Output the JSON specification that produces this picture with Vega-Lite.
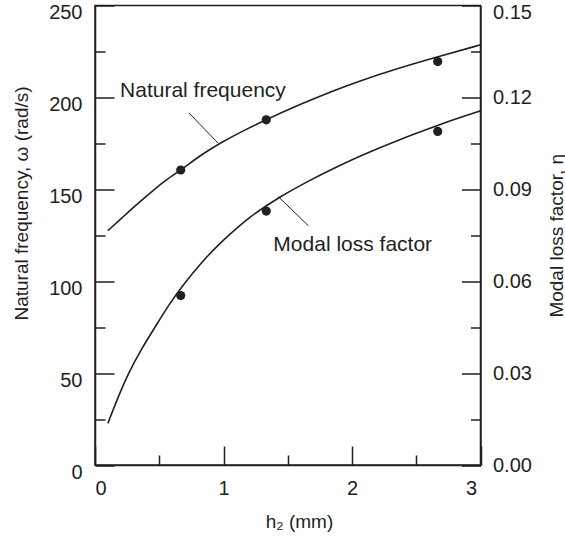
{
  "$schema": "https://vega.github.io/schema/vega-lite/v6.json",
  "width": 385.5,
  "height": 459.5,
  "autosize": "none",
  "padding": {"left": 95, "top": 5.5, "right": 84.5, "bottom": 73},
  "background": "white",
  "config": {
    "font": "Liberation Sans",
    "view": {"stroke": "#231f20", "strokeWidth": 1.5},
    "axis": {
      "grid": false,
      "domainColor": "#231f20",
      "domainWidth": 1.5,
      "tickColor": "#231f20",
      "tickWidth": 1.5,
      "labelColor": "#231f20",
      "labelFont": "Liberation Sans",
      "labelFontSize": 20,
      "titleFont": "Liberation Sans",
      "titleFontSize": 19,
      "titleFontWeight": "normal",
      "titleColor": "#231f20"
    }
  },
  "datasets": {
    "nf_curve": [
      {"h": 0.1, "nf": 127.5}, {"h": 0.2, "nf": 133.8}, {"h": 0.32, "nf": 141.5},
      {"h": 0.45, "nf": 149.2}, {"h": 0.55, "nf": 155.1}, {"h": 0.67, "nf": 160.5},
      {"h": 0.82, "nf": 168.5}, {"h": 0.97, "nf": 175.0}, {"h": 1.15, "nf": 181.8},
      {"h": 1.33, "nf": 187.8}, {"h": 1.5, "nf": 193.2}, {"h": 1.66, "nf": 198.0},
      {"h": 1.85, "nf": 203.5}, {"h": 2.06, "nf": 209.0}, {"h": 2.33, "nf": 215.2},
      {"h": 2.66, "nf": 222.0}, {"h": 3.0, "nf": 228.6}
    ],
    "mlf_curve": [
      {"h": 0.1, "mlf": 0.0136}, {"h": 0.18, "mlf": 0.0222}, {"h": 0.26, "mlf": 0.030},
      {"h": 0.36, "mlf": 0.0378}, {"h": 0.47, "mlf": 0.0452}, {"h": 0.57, "mlf": 0.052},
      {"h": 0.67, "mlf": 0.058}, {"h": 0.84, "mlf": 0.0668}, {"h": 1.0, "mlf": 0.0735},
      {"h": 1.2, "mlf": 0.081}, {"h": 1.435, "mlf": 0.0875}, {"h": 1.65, "mlf": 0.0925},
      {"h": 1.87, "mlf": 0.0971}, {"h": 2.06, "mlf": 0.1008}, {"h": 2.26, "mlf": 0.1043},
      {"h": 2.46, "mlf": 0.1077}, {"h": 2.66, "mlf": 0.1108}, {"h": 2.83, "mlf": 0.1133},
      {"h": 3.0, "mlf": 0.1156}
    ],
    "nf_pts": [
      {"h": 0.667, "nf": 160.5}, {"h": 1.333, "nf": 187.8}, {"h": 2.667, "nf": 219.5}
    ],
    "mlf_pts": [
      {"h": 0.667, "mlf": 0.0553}, {"h": 1.333, "mlf": 0.0829}, {"h": 2.667, "mlf": 0.1089}
    ],
    "labels": [
      {"label": "Natural frequency", "h": 0.195, "v": 200.1},
      {"label": "Modal loss factor", "h": 1.388, "v": 116.6}
    ],
    "leaders": [
      {"h": 0.7315, "v": 191.5, "h2": 0.957, "v2": 175.2},
      {"h": 1.427, "v": 146.0, "h2": 1.66, "v2": 130.2}
    ]
  },
  "layer": [
    {
      "layer": [
        {
          "data": {"name": "nf_curve"},
          "mark": {"type": "line", "color": "#231f20", "strokeWidth": 1.6, "interpolate": "basis"},
          "encoding": {
            "x": {
              "field": "h", "type": "quantitative",
              "scale": {"domain": [0, 3], "nice": false, "zero": false},
              "axis": {
                "orient": "bottom", "values": [0, 1, 2, 3], "tickSize": -19,
                "labelPadding": 32, "labelBaseline": "top",
                "labelOffset": {"condition": {"test": "datum.value == 3", "value": -4}, "value": 0},
                "title": "h₂ (mm)", "titleX": 204, "titleY": 62,
                "titleAlign": "center", "titleBaseline": "alphabetic"
              }
            },
            "y": {
              "field": "nf", "type": "quantitative",
              "scale": {"domain": [0, 250], "nice": false},
              "axis": {
                "orient": "left", "values": [0, 50, 100, 150, 200, 250], "tickSize": -19,
                "labelPadding": 32, "labelOffset": 7,
                "title": "Natural frequency, ω (rad/s)", "titleAngle": -90,
                "titleX": -68, "titleY": 197.5, "titleAlign": "center", "titleBaseline": "alphabetic"
              }
            }
          }
        },
        {
          "data": {"name": "nf_pts"},
          "mark": {"type": "point", "filled": true, "color": "#231f20", "opacity": 1, "size": 85},
          "encoding": {
            "x": {
              "field": "h", "type": "quantitative",
              "scale": {"domain": [0, 3], "nice": false, "zero": false},
              "axis": {"orient": "bottom", "values": [0.5, 1.5, 2.5], "tickSize": -10, "labels": false, "domain": false, "title": null}
            },
            "y": {
              "field": "nf", "type": "quantitative",
              "scale": {"domain": [0, 250], "nice": false},
              "axis": {"orient": "left", "values": [25, 75, 125, 175, 225], "tickSize": -10, "labels": false, "domain": false, "title": null}
            }
          }
        },
        {
          "data": {"name": "labels"},
          "mark": {"type": "text", "align": "left", "baseline": "alphabetic", "fontSize": 21, "font": "Liberation Sans", "color": "#231f20"},
          "encoding": {
            "x": {"field": "h", "type": "quantitative", "axis": null},
            "y": {"field": "v", "type": "quantitative", "axis": null},
            "text": {"field": "label"}
          }
        },
        {
          "data": {"name": "leaders"},
          "mark": {"type": "rule", "color": "#231f20", "strokeWidth": 1},
          "encoding": {
            "x": {"field": "h", "type": "quantitative", "axis": null},
            "y": {"field": "v", "type": "quantitative", "axis": null},
            "x2": {"field": "h2"},
            "y2": {"field": "v2"}
          }
        }
      ],
      "resolve": {"axis": {"x": "independent", "y": "independent"}}
    },
    {
      "layer": [
        {
          "data": {"name": "mlf_curve"},
          "mark": {"type": "line", "color": "#231f20", "strokeWidth": 1.6, "interpolate": "basis"},
          "encoding": {
            "x": {"field": "h", "type": "quantitative", "axis": null},
            "y": {
              "field": "mlf", "type": "quantitative",
              "scale": {"domain": [0, 0.15], "nice": false},
              "axis": {
                "orient": "right", "values": [0, 0.03, 0.06, 0.09, 0.12, 0.15], "format": ".2f",
                "tickSize": -19, "labelPadding": 31,
                "labelOffset": {"condition": {"test": "datum.value > 0.14", "value": 7}, "value": 0},
                "title": "Modal loss factor, η", "titleAngle": -90,
                "titleX": 81.5, "titleY": 229.75, "titleAlign": "center", "titleBaseline": "alphabetic"
              }
            }
          }
        },
        {
          "data": {"name": "mlf_pts"},
          "mark": {"type": "point", "filled": true, "color": "#231f20", "opacity": 1, "size": 85},
          "encoding": {
            "x": {"field": "h", "type": "quantitative", "axis": null},
            "y": {
              "field": "mlf", "type": "quantitative",
              "scale": {"domain": [0, 0.15], "nice": false},
              "axis": {"orient": "right", "values": [0.015, 0.045, 0.075, 0.105, 0.135], "tickSize": -10, "labels": false, "domain": false, "title": null}
            }
          }
        }
      ],
      "resolve": {"axis": {"y": "independent"}}
    }
  ],
  "resolve": {"scale": {"y": "independent"}}
}
